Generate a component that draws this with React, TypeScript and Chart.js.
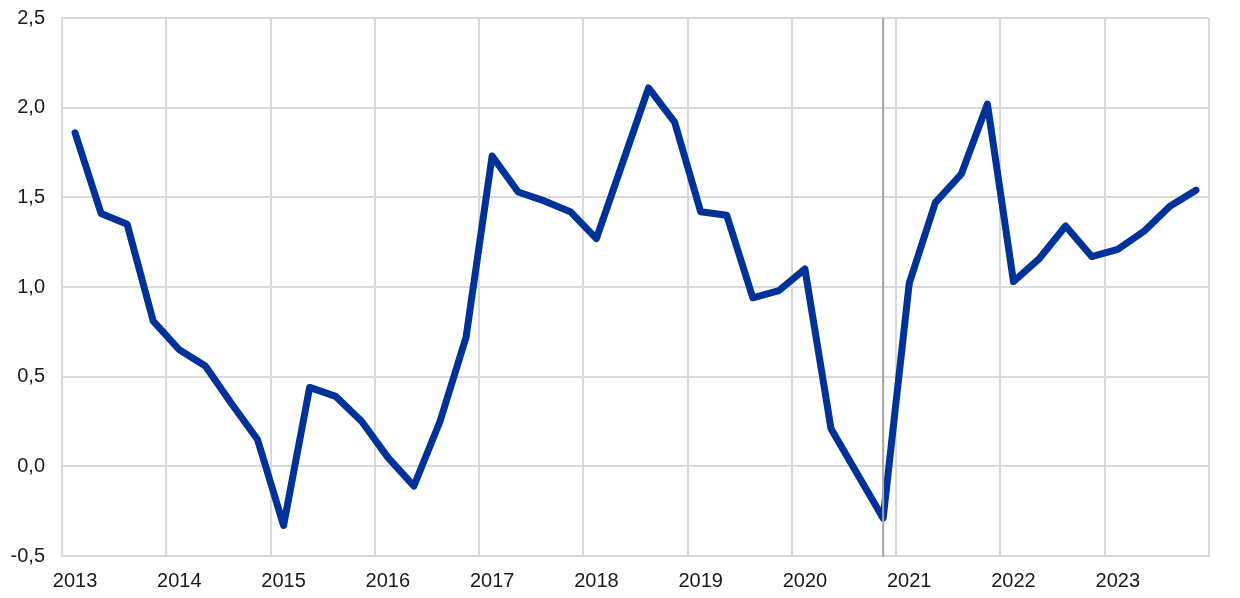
import React, { useEffect, useRef } from "react";
import { Chart, registerables } from "chart.js";

Chart.register(...registerables);

const years = ["2013", "2014", "2015", "2016", "2017", "2018", "2019", "2020", "2021", "2022", "2023"];
const quarters = ["Q1", "Q2", "Q3", "Q4"];
const categories: string[] = years.flatMap((y) => quarters.map((q) => `${y} ${q}`));

const values = [
  1.86, 1.41, 1.35, 0.81,
  0.65, 0.56, 0.35, 0.15,
  -0.33, 0.44, 0.39, 0.25,
  0.05, -0.11, 0.25, 0.72,
  1.73, 1.53, 1.48, 1.42,
  1.27, 1.69, 2.11, 1.92,
  1.42, 1.40, 0.94, 0.98,
  1.10, 0.21, -0.04, -0.29,
  1.02, 1.47, 1.63, 2.02,
  1.03, 1.16, 1.34, 1.17,
  1.21, 1.31, 1.45, 1.54,
];

const markerCategory = "2020 Q4";

const yMin = -0.5;
const yMax = 2.5;
const yStep = 0.5;

const GRID = "#d9d9d9";
const FONT = { family: "'Liberation Sans', Arial, sans-serif", size: 20 };

const markerPlugin = {
  id: "marker",
  afterDatasetsDraw(chart: any) {
    const { ctx, chartArea, scales } = chart;
    const x = scales.x.getPixelForValue(categories.indexOf(markerCategory));
    ctx.save();
    ctx.strokeStyle = "#a6a6a6";
    ctx.lineWidth = 2;
    ctx.beginPath();
    ctx.moveTo(x, chartArea.top);
    ctx.lineTo(x, chartArea.bottom + 1);
    ctx.stroke();
    ctx.restore();
  },
};

export default function App() {
  const ref = useRef<HTMLCanvasElement>(null);

  useEffect(() => {
    if (!ref.current) return;
    const chart = new Chart(ref.current, {
      type: "line",
      data: {
        labels: categories,
        datasets: [
          {
            data: values,
            borderColor: "#003299",
            borderWidth: 7,
            pointRadius: 0,
            tension: 0,
            borderJoinStyle: "round",
            borderCapStyle: "round",
          },
        ],
      },
      options: {
        responsive: false,
        animation: false,
        layout: { padding: { top: 18, right: 31, left: 0, bottom: 0 } },
        plugins: { legend: { display: false }, tooltip: { enabled: false } },
        scales: {
          x: {
            offset: true,
            grid: {
              offset: true,
              drawTicks: false,
              lineWidth: 2,
              color: (ctx: any) =>
                ctx.index === undefined || ctx.index % 4 === 0 ? GRID : "rgba(0,0,0,0)",
            },
            border: { color: GRID, width: 2 },
            ticks: {
              autoSkip: false,
              maxRotation: 0,
              minRotation: 0,
              padding: 13,
              color: "#1a1a1a",
              font: FONT,
              callback: (_v: any, i: number) => (i % 4 === 0 ? categories[i].slice(0, 4) : ""),
            },
            afterFit: (scale: any) => {
              scale.height = 42;
              scale.paddingLeft = 0;
              scale.paddingRight = 0;
            },
          },
          y: {
            min: yMin,
            max: yMax,
            grid: { drawTicks: false, lineWidth: 2, color: GRID },
            border: { color: GRID, width: 2 },
            ticks: {
              stepSize: yStep,
              padding: 17,
              color: "#1a1a1a",
              font: FONT,
              callback: (v: any) => Number(v).toFixed(1).replace(".", ","),
            },
            afterFit: (scale: any) => {
              scale.width = 62;
              scale.paddingTop = 0;
              scale.paddingBottom = 0;
            },
          },
        },
      },
      plugins: [markerPlugin],
    });
    return () => chart.destroy();
  }, []);

  return (
    <div style={{ position: "absolute", left: 0, top: 0, width: 1240, height: 598, background: "#fff" }}>
      <canvas ref={ref} width={1240} height={598} style={{ display: "block" }} />
    </div>
  );
}
